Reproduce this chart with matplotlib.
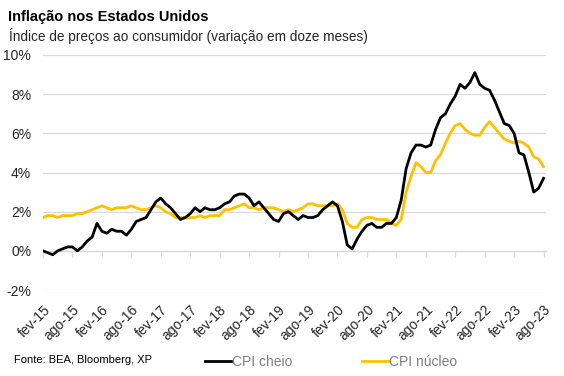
import matplotlib
matplotlib.use("Agg")
import matplotlib.pyplot as plt
from matplotlib.ticker import FuncFormatter

plt.rcParams['font.family'] = ['Liberation Sans', 'DejaVu Sans']

# CPI headline y/y, fev-15 .. ago-23 (monthly)
cpi_cheio = [
    0.0, -0.1, -0.2, 0.0, 0.1, 0.2, 0.2, 0.0, 0.2, 0.5, 0.7,
    1.4, 1.0, 0.9, 1.1, 1.0, 1.0, 0.8, 1.1, 1.5, 1.6, 1.7, 2.1,
    2.5, 2.7, 2.4, 2.2, 1.9, 1.6, 1.7, 1.9, 2.2, 2.0, 2.2, 2.1,
    2.1, 2.2, 2.4, 2.5, 2.8, 2.9, 2.9, 2.7, 2.3, 2.5, 2.2, 1.9,
    1.6, 1.5, 1.9, 2.0, 1.8, 1.6, 1.8, 1.7, 1.7, 1.8, 2.1, 2.3,
    2.5, 2.3, 1.5, 0.3, 0.1, 0.6, 1.0, 1.3, 1.4, 1.2, 1.2, 1.4,
    1.4, 1.7, 2.6, 4.2, 5.0, 5.4, 5.4, 5.3, 5.4, 6.2, 6.8, 7.0,
    7.5, 7.9, 8.5, 8.3, 8.6, 9.1, 8.5, 8.3, 8.2, 7.7, 7.1, 6.5,
    6.4, 6.0, 5.0, 4.9, 4.0, 3.0, 3.2, 3.7,
]

# CPI core y/y, same months
cpi_nucleo = [
    1.7, 1.8, 1.8, 1.7, 1.8, 1.8, 1.8, 1.9, 1.9, 2.0, 2.1,
    2.2, 2.3, 2.2, 2.1, 2.2, 2.2, 2.2, 2.3, 2.2, 2.1, 2.1, 2.2,
    2.3, 2.2, 2.0, 1.9, 1.7, 1.7, 1.7, 1.7, 1.7, 1.8, 1.7, 1.8,
    1.8, 1.8, 2.1, 2.1, 2.2, 2.3, 2.4, 2.2, 2.2, 2.1, 2.2, 2.2,
    2.2, 2.1, 2.0, 2.1, 2.0, 2.1, 2.2, 2.4, 2.4, 2.3, 2.3, 2.3,
    2.3, 2.4, 2.1, 1.4, 1.2, 1.2, 1.6, 1.7, 1.7, 1.6, 1.6, 1.6,
    1.4, 1.3, 1.6, 3.0, 3.8, 4.5, 4.3, 4.0, 4.0, 4.6, 4.9, 5.5,
    6.0, 6.4, 6.5, 6.2, 6.0, 5.9, 5.9, 6.3, 6.6, 6.3, 6.0, 5.7,
    5.6, 5.5, 5.6, 5.5, 5.3, 4.8, 4.7, 4.3,
]

tick_labels = ['fev-15', 'ago-15', 'fev-16', 'ago-16', 'fev-17', 'ago-17',
               'fev-18', 'ago-18', 'fev-19', 'ago-19', 'fev-20', 'ago-20',
               'fev-21', 'ago-21', 'fev-22', 'ago-22', 'fev-23', 'ago-23']

x = list(range(len(cpi_cheio)))
tick_pos = list(range(0, len(cpi_cheio), 6))

fig = plt.figure(figsize=(5.64, 3.76), dpi=100)
ax = fig.add_axes([43/564, 1 - 290/376, 503/564, 235/376])

grid_c = '#d9d9d9'
ax.plot(x, cpi_nucleo, color='#ffc000', lw=2.0, solid_joinstyle='round', zorder=3)
ax.plot(x, cpi_cheio, color='black', lw=2.0, solid_joinstyle='round', zorder=4)

ax.set_ylim(-2, 10)
ax.set_yticks(range(-2, 11, 2))
ax.yaxis.set_major_formatter(FuncFormatter(lambda v, p: f'{v:.0f}%'))
ax.set_xlim(0, 102.5)
ax.set_xticks(tick_pos)
ax.set_xticklabels(tick_labels, rotation=45, ha='right', va='top',
                   rotation_mode='anchor', fontsize=10, color='#262626')
ax.tick_params(axis='x', length=0, pad=9)
ax.tick_params(axis='y', length=0, pad=8.5, labelsize=10, labelcolor='#262626')
ax.grid(axis='y', color=grid_c, lw=0.9)
for s in ax.spines.values():
    s.set_visible(False)

# tick marks hanging from the 0% line
sec = ax.secondary_xaxis(2/12)
sec.set_xticks(tick_pos)
sec.set_xticklabels([])
sec.tick_params(axis='x', direction='out', length=4, width=0.9, color=grid_c)
sec.spines['bottom'].set_color(grid_c)
sec.spines['bottom'].set_linewidth(0.9)

fig.text(8/564, 1 - 17/376, 'Inflação nos Estados Unidos', fontsize=10.5,
         fontweight='bold', va='center', ha='left')
fig.text(9/564, 1 - 36/376, 'Índice de preços ao consumidor (variação em doze meses)',
         fontsize=9.8, va='center', ha='left', color='#262626')
fig.text(14/564, 1 - 360/376, 'Fonte: BEA, Bloomberg, XP', fontsize=8,
         va='center', ha='left')

handles = ax.get_lines()[::-1]
leg = fig.legend(handles, ['CPI cheio', 'CPI núcleo'], ncol=2, frameon=False,
                 loc='center left', bbox_to_anchor=(205/564, 1 - 362/376),
                 fontsize=10, handlelength=1.9, handletextpad=0.05,
                 columnspacing=5.0, borderpad=0, borderaxespad=0)
for t in leg.get_texts():
    t.set_color('#7f7f7f')

fig.savefig('out.png', dpi=100)
